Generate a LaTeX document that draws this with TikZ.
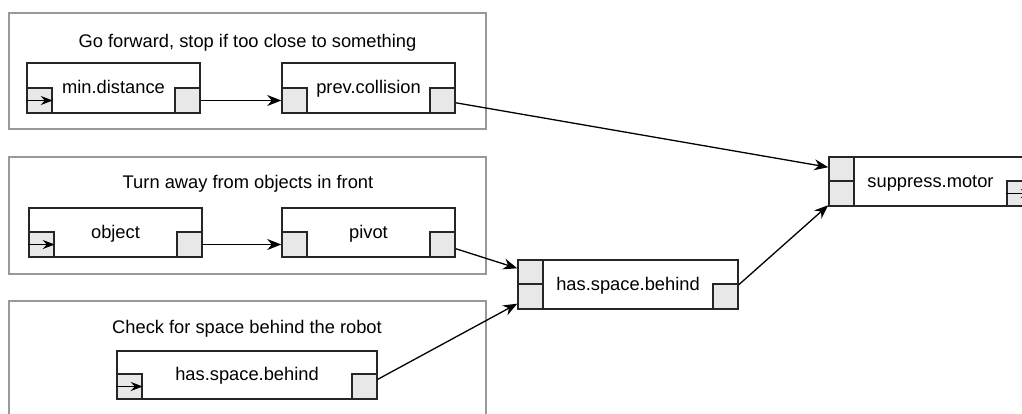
\documentclass[tikz,border=0pt]{standalone}
\usepackage{fontspec}
\setmainfont{Liberation Sans}
\usetikzlibrary{arrows.meta}
\begin{document}
\begin{tikzpicture}[x=1pt,y=-1pt,
  font=\fontsize{18.3}{22}\selectfont,
  grp/.style={draw=black!40, line width=1.2pt, inner sep=0pt},
  grouptitle/.style={anchor=base, inner sep=0pt},
  module/.style={draw=black!85, fill=white, line width=1.5pt, inner sep=0pt, text height=14pt, text depth=3pt},
  port/.style={draw=black!85, fill=black!9, line width=1.5pt, minimum width=25pt, minimum height=25pt, inner sep=0pt},
  conn/.style={line width=1.3pt, -{Stealth[length=14pt,width=11pt,inset=4.5pt]}},
  portarrow/.style={line width=1.3pt, -{Stealth[length=12pt,width=9pt,inset=4pt]}}
]
\clip (0,0) rectangle (1022,413);

% groups
\node[grp, minimum width=477pt, minimum height=116pt] (g1) at (247.5,71) {};
\node[grp, minimum width=477pt, minimum height=117pt] (g2) at (247.5,215.5) {};
\node[grp, minimum width=477pt, minimum height=139pt] (g3) at (247.5,370.5) {};
\node[grouptitle] (t1) at (247.5,47) {Go forward, stop if too close to something};
\node[grouptitle] (t2) at (248,188) {Turn away from objects in front};
\node[grouptitle] (t3) at (247,333) {Check for space behind the robot};

% group 1
\node[module, minimum width=173pt, minimum height=50pt] (md) at (113.5,88) {min.distance};
\node[port, anchor=south west] (mdin) at (md.south west) {};
\node[port, anchor=south east] (mdout) at (md.south east) {};
\draw[portarrow] (mdin.west) -- (mdin.east);

\node[module, minimum width=173pt, minimum height=50pt] (pc) at (368.5,88) {prev.collision};
\node[port, anchor=south west] (pcin) at (pc.south west) {};
\node[port, anchor=south east] (pcout) at (pc.south east) {};

% group 2
\node[module, minimum width=173pt, minimum height=49pt] (obj) at (115.5,232.5) {object};
\node[port, anchor=south west] (objin) at (obj.south west) {};
\node[port, anchor=south east] (objout) at (obj.south east) {};
\draw[portarrow] (objin.west) -- (objin.east);

\node[module, minimum width=173pt, minimum height=49pt] (piv) at (368.5,232.5) {pivot};
\node[port, anchor=south west] (pivin) at (piv.south west) {};
\node[port, anchor=south east] (pivout) at (piv.south east) {};

% group 3
\node[module, minimum width=260pt, minimum height=48pt] (hsa) at (247,375) {has.space.behind};
\node[port, anchor=south west] (hsain) at (hsa.south west) {};
\node[port, anchor=south east] (hsaout) at (hsa.south east) {};
\draw[portarrow] (hsain.west) -- (hsain.east);

% middle
\node[module, minimum width=220pt, minimum height=49pt] (hsb) at (628,284.5) {has.space.behind};
\node[port, anchor=north west] (hsbin1) at (hsb.north west) {};
\node[port, anchor=south west] (hsbin2) at (hsb.south west) {};
\node[port, anchor=south east] (hsbout) at (hsb.south east) {};

% right
\node[module, minimum width=203pt, minimum height=49pt] (sm) at (930.5,181.5) {suppress.motor};
\node[port, anchor=north west] (smin1) at (sm.north west) {};
\node[port, anchor=south west] (smin2) at (sm.south west) {};
\node[port, anchor=south east] (smout) at (sm.south east) {};
\draw[portarrow] (smout.west) -- (smout.east);

% connectors
\draw[conn] (mdout) -- (pcin);
\draw[conn] (objout) -- (pivin);
\draw[conn] (pcout) -- (smin1);
\draw[conn] (pivout) -- (hsbin1);
\draw[conn] (hsaout) -- (hsbin2);
\draw[conn] (hsbout) -- (smin2);
\end{tikzpicture}
\end{document}
